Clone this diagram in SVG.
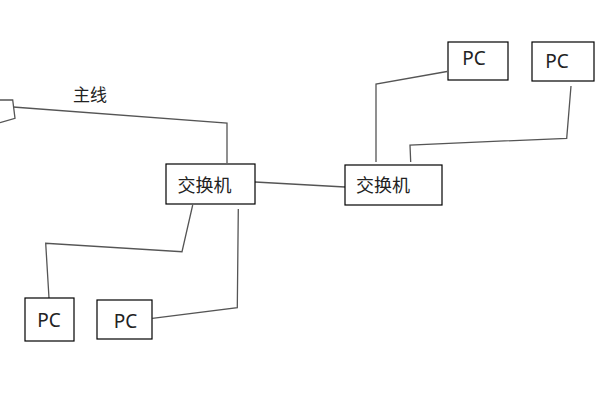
<svg xmlns="http://www.w3.org/2000/svg" width="600" height="400" viewBox="0 0 600 400">
<style>
.box{fill:#fff;stroke:#000;stroke-width:1.2}
.t{font-family:"Noto Sans","Noto Sans CJK SC",sans-serif;font-size:18px;fill:#222;text-anchor:middle}
.pc{font-size:19px}
.c{fill:none;stroke:#555;stroke-width:1.3}
</style>
<rect width="600" height="400" fill="#fff"/>
<g id="connectors">
<polyline class="c" points="0,100 12.7,100 15,118.3 0,122.7" stroke="#333"/>
<polyline class="c" points="13,107 227,123 227,163"/>
<line class="c" x1="255" y1="182" x2="345" y2="187"/>
<polyline class="c" points="376,162 376,84 447,71.5"/>
<polyline class="c" points="410.7,162 410,145 566.7,138.3 571,86"/>
<polyline class="c" points="192.7,205 182,251.7 45.7,243.3 49,298"/>
<polyline class="c" points="238.3,209 237.3,307.7 152.3,318.3"/>
</g>
<g id="label-main"><text class="t" x="90" y="101" style="font-size:17px">主线</text></g>
<g id="switch1"><rect class="box" x="166" y="164" width="89" height="40"/><text class="t" x="204.5" y="192">交换机</text></g>
<g id="switch2"><rect class="box" x="345" y="165" width="97" height="40"/><text class="t" x="383" y="192">交换机</text></g>
<g id="pc1"><rect class="box" x="448" y="42" width="60" height="38"/><text class="t pc" x="474" y="65">PC</text></g>
<g id="pc2"><rect class="box" x="532" y="42" width="62" height="39"/><text class="t pc" x="557" y="68">PC</text></g>
<g id="pc3"><rect class="box" x="25" y="298" width="49" height="43"/><text class="t pc" x="49" y="326.5">PC</text></g>
<g id="pc4"><rect class="box" x="97" y="300" width="55" height="39"/><text class="t pc" x="125.5" y="327.5">PC</text></g>
</svg>
